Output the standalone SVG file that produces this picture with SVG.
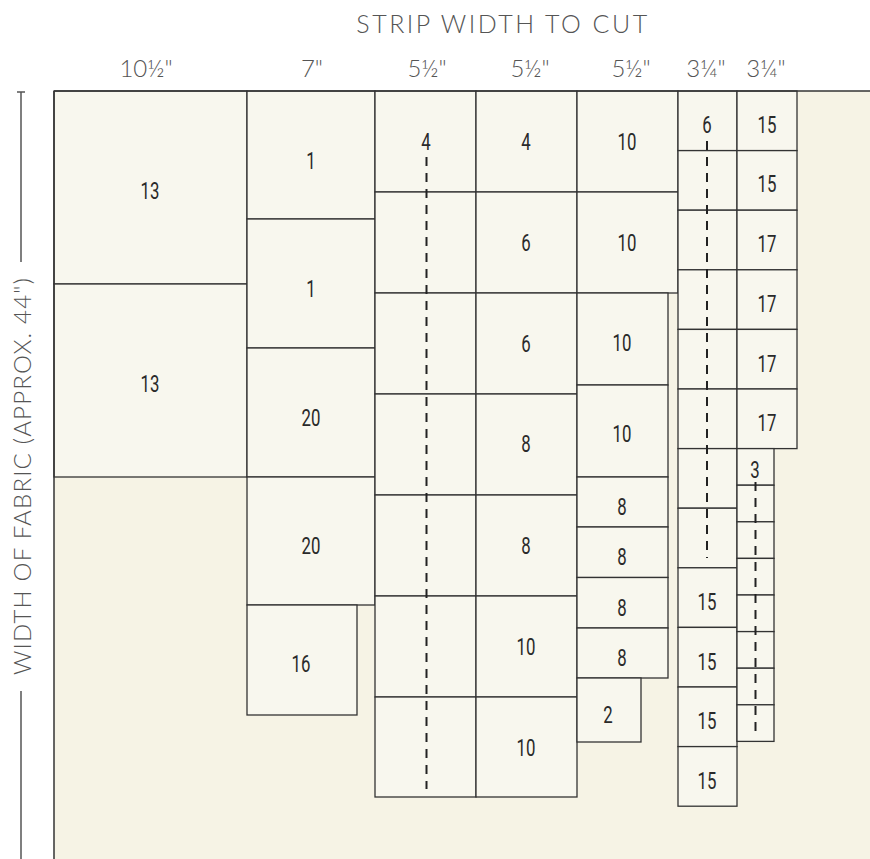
<svg xmlns="http://www.w3.org/2000/svg" width="870" height="859" viewBox="0 0 870 859">
<style>
.bg{fill:#f6f3e5}
.p{fill:#f8f7ee;stroke:#333;stroke-width:1.3}
.n{font-family:Roboto,"Liberation Sans",sans-serif;font-size:24px;fill:#2a2a2a;text-anchor:middle}
.h{font-family:Lato,"Noto Sans",sans-serif;font-weight:300;fill:#555;text-anchor:middle}
.d{stroke:#222;stroke-width:2;stroke-dasharray:9 7;fill:none}
.ax{stroke:#555;stroke-width:1.5;fill:none}
</style>
<rect width="870" height="859" fill="#ffffff"/>
<rect class="bg" x="54" y="91" width="816" height="768"/>
<g id="labels">
<text class="h" x="503" y="33" font-size="25" letter-spacing="2.5">STRIP WIDTH TO CUT</text>
<text class="h" x="146" y="77" font-size="24">10½"</text>
<text class="h" x="312" y="77" font-size="24">7"</text>
<text class="h" x="427" y="77" font-size="24">5½"</text>
<text class="h" x="530" y="77" font-size="24">5½"</text>
<text class="h" x="631" y="77" font-size="24">5½"</text>
<text class="h" x="706" y="77" font-size="24">3¼"</text>
<text class="h" x="766" y="77" font-size="24">3¼"</text>
<text class="h" font-size="24" letter-spacing="1.2" transform="translate(31,476) rotate(-90)">WIDTH OF FABRIC (APPROX. 44")</text>
</g>
<g id="axis">
<line class="ax" x1="21" y1="92" x2="21" y2="262"/>
<line class="ax" x1="17" y1="92" x2="25" y2="92"/>
<line class="ax" x1="21" y1="691" x2="21" y2="859"/>
</g>
<g id="col1">
<rect class="p" x="54" y="91" width="193" height="193"/><text class="n" transform="translate(150,198.5) scale(0.7,1)">13</text>
<rect class="p" x="54" y="284" width="193" height="193"/><text class="n" transform="translate(150,391.5) scale(0.7,1)">13</text>
</g>
<g id="col2">
<rect class="p" x="247" y="91" width="128" height="128"/><text class="n" transform="translate(311,168.5) scale(0.7,1)">1</text>
<rect class="p" x="247" y="219" width="128" height="129"/><text class="n" transform="translate(311,296.5) scale(0.7,1)">1</text>
<rect class="p" x="247" y="348" width="128" height="129"/><text class="n" transform="translate(311,425.5) scale(0.7,1)">20</text>
<rect class="p" x="247" y="477" width="128" height="128"/><text class="n" transform="translate(311,553.5) scale(0.7,1)">20</text>
<rect class="p" x="247" y="605" width="110" height="110"/><text class="n" transform="translate(301,671.5) scale(0.7,1)">16</text>
</g>
<g id="col3">
<rect class="p" x="375" y="91" width="101" height="101"/><text class="n" transform="translate(426,149.5) scale(0.7,1)">4</text>
<rect class="p" x="375" y="192" width="101" height="101"/>
<rect class="p" x="375" y="293" width="101" height="101"/>
<rect class="p" x="375" y="394" width="101" height="101"/>
<rect class="p" x="375" y="495" width="101" height="101"/>
<rect class="p" x="375" y="596" width="101" height="101"/>
<rect class="p" x="375" y="697" width="101" height="100"/>
</g>
<g id="col4">
<rect class="p" x="476" y="91" width="101" height="101"/><text class="n" transform="translate(526,149.5) scale(0.7,1)">4</text>
<rect class="p" x="476" y="192" width="101" height="101"/><text class="n" transform="translate(526,250.5) scale(0.7,1)">6</text>
<rect class="p" x="476" y="293" width="101" height="101"/><text class="n" transform="translate(526,351.5) scale(0.7,1)">6</text>
<rect class="p" x="476" y="394" width="101" height="101"/><text class="n" transform="translate(526,451.5) scale(0.7,1)">8</text>
<rect class="p" x="476" y="495" width="101" height="101"/><text class="n" transform="translate(526,553.5) scale(0.7,1)">8</text>
<rect class="p" x="476" y="596" width="101" height="101"/><text class="n" transform="translate(526,654.5) scale(0.7,1)">10</text>
<rect class="p" x="476" y="697" width="101" height="100"/><text class="n" transform="translate(526,755.5) scale(0.7,1)">10</text>
</g>
<g id="col5">
<rect class="p" x="577" y="91" width="101" height="101"/><text class="n" transform="translate(627,149.5) scale(0.7,1)">10</text>
<rect class="p" x="577" y="192" width="101" height="101"/><text class="n" transform="translate(627,250.5) scale(0.7,1)">10</text>
<rect class="p" x="577" y="293" width="91" height="92"/><text class="n" transform="translate(622,350.5) scale(0.7,1)">10</text>
<rect class="p" x="577" y="385" width="91" height="92"/><text class="n" transform="translate(622,441.5) scale(0.7,1)">10</text>
<rect class="p" x="577" y="477" width="91" height="50"/><text class="n" transform="translate(622,514.5) scale(0.7,1)">8</text>
<rect class="p" x="577" y="527" width="91" height="50.5"/><text class="n" transform="translate(622,564.5) scale(0.7,1)">8</text>
<rect class="p" x="577" y="577.5" width="91" height="50.5"/><text class="n" transform="translate(622,615.5) scale(0.7,1)">8</text>
<rect class="p" x="577" y="628" width="91" height="50"/><text class="n" transform="translate(622,665.5) scale(0.7,1)">8</text>
<rect class="p" x="577" y="678" width="64" height="64"/><text class="n" transform="translate(608,722.5) scale(0.7,1)">2</text>
</g>
<g id="col6">
<rect class="p" x="678" y="91" width="59" height="59.6"/><text class="n" transform="translate(707,132.5) scale(0.7,1)">6</text>
<rect class="p" x="678" y="150.6" width="59" height="59.6"/>
<rect class="p" x="678" y="210.2" width="59" height="59.6"/>
<rect class="p" x="678" y="269.8" width="59" height="59.6"/>
<rect class="p" x="678" y="329.4" width="59" height="59.6"/>
<rect class="p" x="678" y="389" width="59" height="59.6"/>
<rect class="p" x="678" y="448.6" width="59" height="59.6"/>
<rect class="p" x="678" y="508.2" width="59" height="59.6"/>
<rect class="p" x="678" y="567.8" width="59" height="59.6"/><text class="n" transform="translate(707,609.5) scale(0.7,1)">15</text>
<rect class="p" x="678" y="627.4" width="59" height="59.6"/><text class="n" transform="translate(707,669.5) scale(0.7,1)">15</text>
<rect class="p" x="678" y="687" width="59" height="59.6"/><text class="n" transform="translate(707,728.5) scale(0.7,1)">15</text>
<rect class="p" x="678" y="746.6" width="59" height="59.6"/><text class="n" transform="translate(707,788.5) scale(0.7,1)">15</text>
</g>
<g id="col7">
<rect class="p" x="737" y="91" width="60" height="59.6"/><text class="n" transform="translate(767,132.5) scale(0.7,1)">15</text>
<rect class="p" x="737" y="150.6" width="60" height="59.6"/><text class="n" transform="translate(767,191.5) scale(0.7,1)">15</text>
<rect class="p" x="737" y="210.2" width="60" height="59.6"/><text class="n" transform="translate(767,251.5) scale(0.7,1)">17</text>
<rect class="p" x="737" y="269.8" width="60" height="59.6"/><text class="n" transform="translate(767,311.5) scale(0.7,1)">17</text>
<rect class="p" x="737" y="329.4" width="60" height="59.6"/><text class="n" transform="translate(767,371.5) scale(0.7,1)">17</text>
<rect class="p" x="737" y="389" width="60" height="59.6"/><text class="n" transform="translate(767,430.5) scale(0.7,1)">17</text>
<rect class="p" x="737" y="448.6" width="37" height="36.6"/><text class="n" transform="translate(755,477.5) scale(0.7,1)">3</text>
<rect class="p" x="737" y="485.2" width="37" height="36.6"/>
<rect class="p" x="737" y="521.8" width="37" height="36.6"/>
<rect class="p" x="737" y="558.4" width="37" height="36.6"/>
<rect class="p" x="737" y="595" width="37" height="36.6"/>
<rect class="p" x="737" y="631.6" width="37" height="36.6"/>
<rect class="p" x="737" y="668.2" width="37" height="36.6"/>
<rect class="p" x="737" y="704.8" width="37" height="36.6"/>
</g>
<g id="connectors">
<line class="d" x1="426.5" y1="157" x2="426.5" y2="789"/>
<line class="d" x1="707" y1="141" x2="707" y2="558"/>
<line class="d" x1="755.5" y1="482" x2="755.5" y2="738"/>
<line stroke="#333" stroke-width="1.5" x1="54" y1="91" x2="870" y2="91"/>
<line stroke="#333" stroke-width="1.5" x1="54" y1="91" x2="54" y2="859"/>
</g>
</svg>
